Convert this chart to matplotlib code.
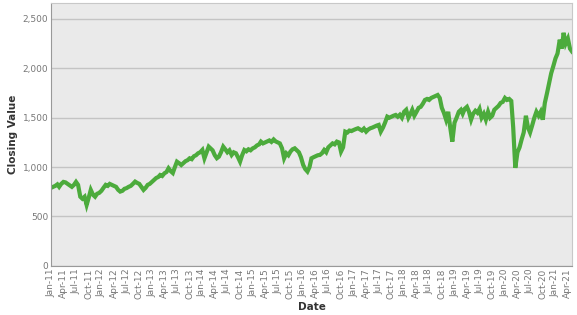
import pandas as pd
import numpy as np
import matplotlib
matplotlib.use("Agg")
import matplotlib.pyplot as plt
import matplotlib.dates as mdates
from matplotlib.ticker import FuncFormatter

# ==========================================
# DADOS (2 pontos por mês)
# ==========================================

valores_2011 = [790, 800, 810, 825, 800, 830, 850, 845, 830, 815, 800, 820,
                850, 820, 700, 680, 700, 617, 690, 769, 720, 700, 730, 739]
valores_2012 = [760, 790, 820, 810, 830, 820, 810, 800, 770, 752, 760, 780,
                787, 800, 810, 830, 853, 840, 830, 800, 769, 790, 820, 830]
valores_2013 = [850, 870, 890, 900, 920, 910, 937, 950, 988, 960, 940, 1000,
                1055, 1040, 1021, 1040, 1060, 1070, 1089, 1080, 1110, 1120, 1140, 1150]
valores_2014 = [1174, 1089, 1150, 1207, 1190, 1170, 1120, 1090, 1106, 1150, 1207, 1180,
                1150, 1170, 1123, 1150, 1140, 1100, 1055, 1120, 1173, 1160, 1180, 1170]
valores_2015 = [1190, 1200, 1220, 1230, 1258, 1240, 1250, 1260, 1270, 1255, 1280, 1260,
                1250, 1240, 1190, 1089, 1140, 1120, 1157, 1180, 1190, 1170, 1150, 1100]
valores_2016 = [1022, 980, 955, 1000, 1089, 1100, 1110, 1120, 1123, 1140, 1173, 1150,
                1200, 1220, 1240, 1230, 1258, 1250, 1157, 1200, 1359, 1350, 1370, 1365]
valores_2017 = [1376, 1385, 1393, 1380, 1370, 1390, 1359, 1380, 1393, 1400, 1410, 1420,
                1427, 1359, 1400, 1450, 1511, 1500, 1510, 1520, 1528, 1510, 1530, 1500]
valores_2018 = [1560, 1580, 1500, 1540, 1580, 1520, 1560, 1600, 1610, 1640, 1680, 1690,
                1680, 1700, 1710, 1720, 1730, 1700, 1600, 1550, 1480, 1560, 1400, 1258]
valores_2019 = [1450, 1500, 1560, 1580, 1540, 1590, 1610, 1560, 1480, 1540, 1570, 1550,
                1590, 1500, 1540, 1480, 1560, 1500, 1520, 1580, 1600, 1620, 1650, 1660]
valores_2020 = [1700, 1680, 1690, 1670, 1400, 992, 1150, 1200, 1280, 1350, 1520, 1400,
                1350, 1420, 1500, 1560, 1520, 1560, 1480, 1650, 1750, 1850, 1950, 2020]
valores_2021 = [2100, 2150, 2290, 2200, 2360, 2250, 2300, 2200, 2170]

valores = (valores_2011 + valores_2012 + valores_2013 + valores_2014 +
           valores_2015 + valores_2016 + valores_2017 + valores_2018 +
           valores_2019 + valores_2020 + valores_2021)

datas = []
for mes in pd.date_range("2011-01-01", "2021-05-01", freq="MS"):
    datas.append(mes)
    datas.append(mes + pd.Timedelta(days=15))
datas = datas[:len(valores)]

df = pd.DataFrame({"data": datas, "fechamento": valores})

# ==========================================
# GRÁFICO
# ==========================================

fig = plt.figure(figsize=(5.77, 3.15), dpi=100)
ax = fig.add_axes([0.0884, 0.156, 0.9030, 0.834])

ax.set_facecolor("#EAEAEA")

ax.plot(df["data"], df["fechamento"], color="#4CAB3C", linewidth=3.0,
        solid_joinstyle="miter")

ax.set_xlim(pd.Timestamp("2011-01-01"), pd.Timestamp("2021-05-01"))
ax.set_ylim(0, 2660)

ax.set_yticks([0, 500, 1000, 1500, 2000, 2500])
ax.yaxis.set_major_formatter(FuncFormatter(lambda v, p: f"{int(v):,}"))

ax.xaxis.set_major_locator(mdates.MonthLocator(bymonth=[1, 4, 7, 10]))
ax.xaxis.set_major_formatter(mdates.DateFormatter("%b-%y"))
plt.setp(ax.get_xticklabels(), rotation=90)

ax.grid(axis="y", color="#C4C4C4", linewidth=1.0)
ax.set_axisbelow(True)

ax.tick_params(axis="both", length=0, labelsize=6.5, colors="#777777", pad=2)

for lado in ["top", "right"]:
    ax.spines[lado].set_color("#C8C8C8")
for lado in ["left", "bottom"]:
    ax.spines[lado].set_color("#999999")

ax.set_xlabel("Date", fontsize=7.5, fontweight="bold", color="#333333", labelpad=2)
ax.set_ylabel("Closing Value", fontsize=7.5, fontweight="bold", color="#333333", labelpad=3)

fig.savefig("out.png", dpi=100)
plt.close()
